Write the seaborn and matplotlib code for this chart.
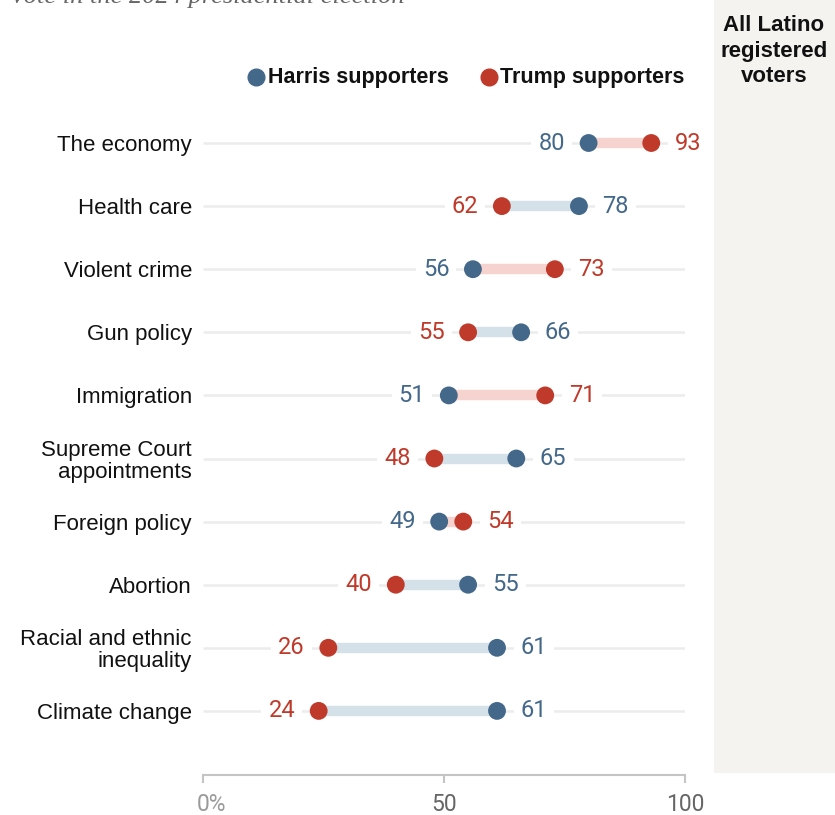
import numpy as np
import pandas as pd
import matplotlib
matplotlib.use("Agg")
import matplotlib.pyplot as plt
import matplotlib.transforms as mtransforms
import seaborn as sns
from matplotlib.patches import Rectangle
from matplotlib.lines import Line2D

# data
issues = ["The economy", "Health care", "Violent crime", "Gun policy", "Immigration",
          "Supreme Court\nappointments", "Foreign policy", "Abortion",
          "Racial and ethnic\ninequality", "Climate change"]
harris = [80, 78, 56, 66, 51, 65, 49, 55, 61, 61]
trump = [93, 62, 73, 55, 71, 48, 54, 40, 26, 24]
all_latino = [85, 71, 62, 62, 59, 58, 50, 49, 49, 45]
x_ticks = [0, 50, 100]
x_tick_labels = ["0%", "50", "100"]

HARRIS = "#44688a"
TRUMP = "#bf3a2a"
HARRIS_LIGHT = "#d4e1e9"
TRUMP_LIGHT = "#f6d3ce"
GRID = "#ececec"

df = pd.DataFrame({"issue": issues, "row": np.arange(len(issues)),
                   "Harris": harris, "Trump": trump})
long = df.melt(id_vars=["issue", "row"], value_vars=["Harris", "Trump"],
               var_name="group", value_name="pct")

sns.set_theme(style="white")
plt.rcParams["font.family"] = ["Liberation Sans", "DejaVu Sans"]

W, H = 835, 815
fig = plt.figure(figsize=(W / 100, H / 100), dpi=100)


def fx(x):
    return x / W


def fy(y):
    return 1 - y / H


# shaded column on the right
fig.patches.append(Rectangle((fx(714), fy(773)), fx(835) - fx(714), fy(0) - fy(773),
                             transform=fig.transFigure, facecolor="#f4f3ef",
                             edgecolor="none", zorder=0))

row_gap = 63.1
ax = fig.add_axes([fx(203), fy(775), fx(685) - fx(203), fy(90) - fy(775)])
ax.patch.set_alpha(0)
ax.set_xlim(0, 100)
ax.set_ylim((775 - 143) / row_gap, (90 - 143) / row_gap)

# grid lines per row
ax.hlines(df["row"], 0, 100, colors=GRID, linewidth=1.8, zorder=1)

# connectors
conn_colors = [TRUMP_LIGHT if t > h else HARRIS_LIGHT for h, t in zip(harris, trump)]
ax.hlines(df["row"], df["Harris"], df["Trump"], colors=conn_colors, linewidth=7.5, zorder=3)

# dots
sns.scatterplot(data=long, x="pct", y="row", hue="group",
                palette={"Harris": HARRIS, "Trump": TRUMP},
                s=165, edgecolor="none", legend=False, zorder=4, ax=ax)

# value labels
for r, h, t in zip(df["row"], harris, trump):
    pairs = [(h, HARRIS), (t, TRUMP)]
    lo, hi = sorted(pairs, key=lambda p: p[0])
    for (val, col), off, ha in [(lo, -17, "right"), (hi, 17, "left")]:
        ax.annotate(str(val), (val, r), xytext=(off, 0), textcoords="offset points",
                    ha=ha, va="center", fontsize=17, color=col, family=["Roboto"],
                    zorder=2,
                    bbox=dict(boxstyle="square,pad=0.3", fc="white", ec="none"))

# category labels
ax.set_yticks(df["row"])
ax.set_yticklabels(issues, fontsize=16, color="#111111", linespacing=1.05)
ax.tick_params(axis="y", length=0, pad=8)

# x axis
for s in ["top", "right", "left"]:
    ax.spines[s].set_visible(False)
ax.spines["bottom"].set_color("#c4c4c4")
ax.spines["bottom"].set_linewidth(1.5)
ax.set_xticks(x_ticks)
ax.set_xticklabels(x_tick_labels, family=["Roboto"], fontsize=16.5)
ax.tick_params(axis="x", direction="out", length=6, width=1.5, color="#c4c4c4",
               labelcolor="#666666", pad=7, bottom=True)
lab0 = ax.get_xticklabels()[0]
lab0.set_horizontalalignment("left")
lab0.set_color("#9a9a9a")
lab0.set_transform(lab0.get_transform() +
                   mtransforms.ScaledTranslation(-6.5 / 100, 0, fig.dpi_scale_trans))
ax.set_xlabel("")
ax.set_ylabel("")

# right column values
blend = mtransforms.blended_transform_factory(fig.transFigure, ax.transData)
for r, v in zip(df["row"], all_latino):
    ax.text(fx(773), r - 0.03, str(v), transform=blend, ha="center", va="center",
            fontsize=14.5, family=["DejaVu Sans"], color="#111111")
fig.text(fx(774), fy(51), "All Latino\nregistered\nvoters", ha="center", va="center",
         fontsize=16, fontweight="bold", linespacing=1.3, color="#111111")

# legend
for xd, xt, col, name in [(256, 268, HARRIS, "Harris supporters"),
                          (489, 500, TRUMP, "Trump supporters")]:
    fig.add_artist(Line2D([fx(xd)], [fy(77)], marker="o", markersize=12, color=col,
                          linestyle="none", transform=fig.transFigure))
    fig.text(fx(xt), fy(77), name, ha="left", va="center", fontsize=15.5,
             fontweight="bold", color="#111111")

# subtitle, cut off at the top edge as in the source image
fig.text(fx(12), fy(3), "vote in the 2024 presidential election", ha="left",
         va="baseline", fontsize=19, style="italic", color="#666666",
         family=["Liberation Serif", "DejaVu Serif"])

fig.savefig("out.png", dpi=100)
